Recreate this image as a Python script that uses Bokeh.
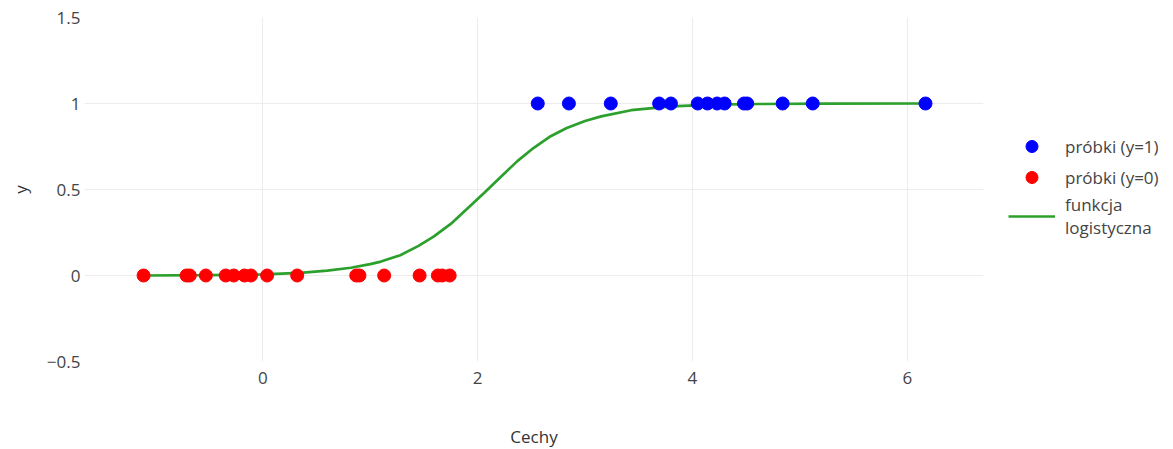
from bokeh.plotting import figure
from bokeh.models import Range1d, FixedTicker, Legend, LegendItem
from bokeh.embed import file_html
from bokeh.resources import INLINE

# ---- data ----
x_pos = [2.56, 2.85, 3.24, 3.69, 3.80, 4.05, 4.14, 4.23, 4.30, 4.48, 4.51, 4.84, 5.12, 6.17]
y_pos = [1] * len(x_pos)
x_neg = [-1.11, -0.71, -0.68, -0.53, -0.345, -0.27, -0.17, -0.11, 0.04, 0.32,
         0.87, 0.90, 1.13, 1.46, 1.63, 1.67, 1.74]
y_neg = [0] * len(x_neg)
curve_x = [-1.11, -0.5, 0.0, 0.35, 0.6, 0.82, 1.0, 1.1, 1.28, 1.45, 1.59, 1.75, 1.9, 2.06,
           2.21, 2.37, 2.52, 2.68, 2.83, 3.0, 3.15, 3.43, 3.8, 4.2, 4.6, 5.2, 6.17]
curve_y = [0.0, 0.002, 0.006, 0.015, 0.028, 0.045, 0.066, 0.081, 0.118, 0.172, 0.226, 0.30,
           0.386, 0.48, 0.57, 0.665, 0.741, 0.81, 0.858, 0.898, 0.925, 0.961, 0.983, 0.993,
           0.997, 0.999, 1.0]
x_ticks = [0, 2, 4, 6]
y_ticks = [-0.5, 0, 0.5, 1, 1.5]
y_tick_labels = ["\u22120.5", "0", "0.5", "1", "1.5"]
label_pos = "pr\u00f3bki (y=1)"
label_neg = "pr\u00f3bki (y=0)"
label_line = "funkcja\nlogistyczna"
x_title = "Cechy"
y_title = "y"

FONT = "Open Sans"
TXT = "#444444"

p = figure(frame_width=899, frame_height=344, output_backend="svg", toolbar_location=None,
           x_range=Range1d(-1.66, 6.71), y_range=Range1d(-0.5, 1.5),
           min_border_left=84, min_border_top=17, min_border_right=190, min_border_bottom=88)
p.outline_line_color = None
p.background_fill_color = "white"
p.border_fill_color = "white"

line_r = p.line(curve_x, curve_y, line_color="#2ca02c", line_width=2.7)
pos_r = p.scatter(x_pos, y_pos, size=13, fill_color="#0000ff", line_color="#0000ff")
neg_r = p.scatter(x_neg, y_neg, size=13, fill_color="#ff0000", line_color="#ff0000")

for ax in (p.xaxis[0], p.yaxis[0]):
    ax.axis_line_color = None
    ax.major_tick_line_color = None
    ax.minor_tick_line_color = None
    ax.major_tick_in = 0
    ax.major_tick_out = 0
    ax.major_label_text_font = FONT
    ax.major_label_text_font_size = "17px"
    ax.major_label_text_color = TXT
    ax.axis_label_text_font = FONT
    ax.axis_label_text_font_size = "17px"
    ax.axis_label_text_color = "#333333"
    ax.axis_label_text_font_style = "normal"

p.xaxis.ticker = FixedTicker(ticks=x_ticks)
p.yaxis.ticker = FixedTicker(ticks=y_ticks)
p.yaxis.major_label_overrides = {t: l for t, l in zip(y_ticks, y_tick_labels)}
p.xaxis.axis_label = x_title
p.yaxis.axis_label = y_title
p.xaxis.major_label_standoff = 10
p.xaxis.axis_label_standoff = 38
p.yaxis.major_label_standoff = 4
p.yaxis.axis_label_standoff = 12

p.xgrid.grid_line_color = "#ececec"
p.ygrid.grid_line_color = "#ececec"
p.xgrid.ticker = FixedTicker(ticks=x_ticks)
p.ygrid.ticker = FixedTicker(ticks=[0, 0.5, 1])

legend = Legend(items=[LegendItem(label=label_pos, renderers=[pos_r]),
                       LegendItem(label=label_neg, renderers=[neg_r]),
                       LegendItem(label=label_line, renderers=[line_r])],
                location=(25, 122), margin=0, padding=0, spacing=1,
                glyph_width=47, glyph_height=30, label_height=20, label_standoff=10,
                label_text_font=FONT, label_text_font_size="17px", label_text_color=TXT,
                label_text_line_height=1.35,
                background_fill_alpha=0, border_line_color=None)
p.add_layout(legend, "right")

open("out.html", "w").write(file_html(p, INLINE))
